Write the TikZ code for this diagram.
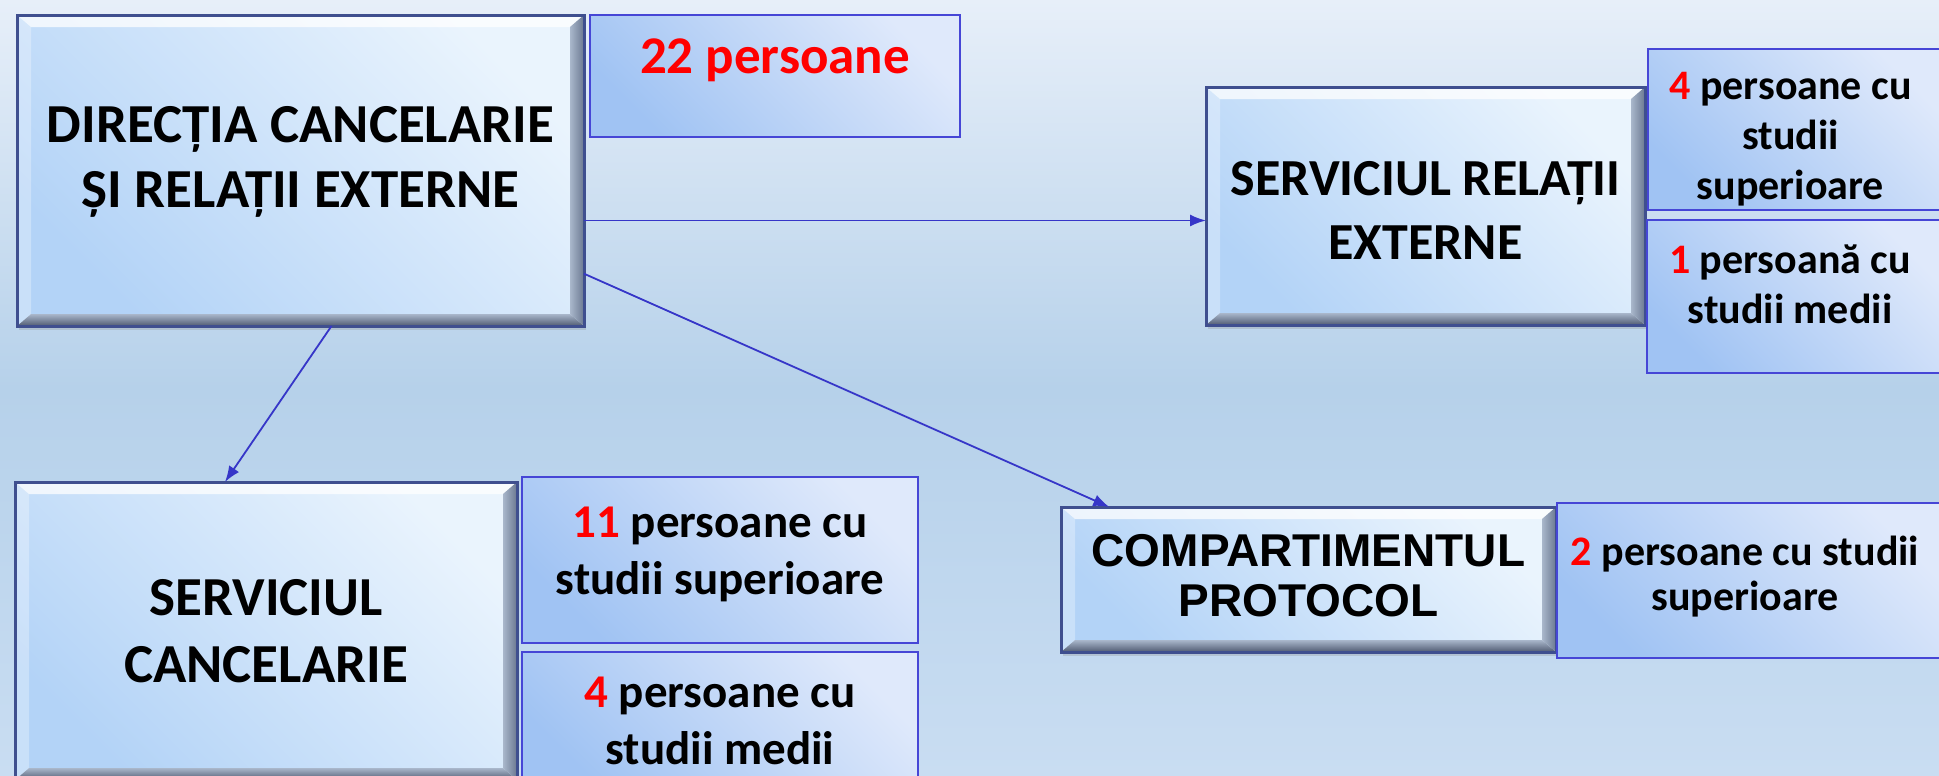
\documentclass[tikz,border=0pt]{standalone}
\usepackage{fontspec}
\setmainfont{Carlito}
\newfontfamily\arialfont{Liberation Sans}
\usetikzlibrary{arrows.meta,shadows}
\definecolor{bgtop}{HTML}{E7EFF9}
\definecolor{bgmid}{HTML}{B6D1EA}
\definecolor{bgbot}{HTML}{C9DDF2}
\definecolor{boxedge}{HTML}{3F4F8F}
\definecolor{boxlight}{HTML}{EAF4FD}
\definecolor{boxdark}{HTML}{B3D3F7}
\definecolor{bevelmid}{HTML}{A9B7CB}
\definecolor{beveldark}{HTML}{505B72}
\definecolor{bevelside}{HTML}{6B7891}
\definecolor{infoedge}{HTML}{4646D6}
\definecolor{infolight}{HTML}{DFE9FB}
\definecolor{infodark}{HTML}{A0C3F3}
\definecolor{linkblue}{HTML}{3636C8}
\definecolor{numred}{HTML}{FF0000}
\newcommand{\nr}[1]{\textcolor{numred}{#1}}
\tikzset{
  unitbox/.style={draw=boxedge, line width=1.5pt, top color=boxlight, bottom color=boxdark,
    shading angle=-45, inner sep=0pt, outer sep=0pt,
    drop shadow={opacity=.25, shadow xshift=1pt, shadow yshift=-2pt},
    path picture={
      \path (path picture bounding box.north west) coordinate (nw)
            (path picture bounding box.north east) coordinate (ne)
            (path picture bounding box.south west) coordinate (sw)
            (path picture bounding box.south east) coordinate (se);
      \fill[white,opacity=.75] (nw) -- (ne) -- ([shift={(-7pt,-6pt)}]ne) -- ([shift={(7pt,-6pt)}]nw) -- cycle;
      \shade[top color=bevelmid, bottom color=beveldark, shading angle=0] (sw) -- (se) -- ([shift={(-7pt,6pt)}]se) -- ([shift={(7pt,6pt)}]sw) -- cycle;
      \shade[left color=bevelmid, right color=bevelside] (se) -- (ne) -- ([shift={(-7pt,-6pt)}]ne) -- ([shift={(-7pt,6pt)}]se) -- cycle;
      \fill[white,opacity=.3] (sw) -- (nw) -- ([shift={(7pt,-6pt)}]nw) -- ([shift={(7pt,6pt)}]sw) -- cycle;
    }},
  infobox/.style={draw=infoedge, line width=.6pt, top color=infolight, bottom color=infodark,
    shading angle=-45, inner sep=0pt, outer sep=0pt},
  boxtext/.style={align=center, inner sep=0pt},
  link/.style={draw=linkblue, line width=.9pt, -{Latex[length=8pt,width=6pt]}},
}
\begin{document}
\begin{tikzpicture}[x=0.5pt,y=-0.5pt]
\useasboundingbox (0,0) rectangle (1939,776);
\shade[top color=bgtop, bottom color=bgbot, middle color=bgmid] (0,0) rectangle (1939,776);

\node[unitbox, minimum width=283.5pt, minimum height=155.5pt,
  label={[boxtext, yshift=4.5pt, font=\bfseries\fontsize{27.5}{32.5}\selectfont]center:DIRECȚIA CANCELARIE\\ȘI RELAȚII EXTERNE}] (dir) at (300.5,170.5) {};
\node[infobox, minimum width=185pt, minimum height=61pt,
  label={[boxtext, yshift=8pt, font=\bfseries\fontsize{26.5}{32}\selectfont]center:\nr{22 persoane}}] (total) at (775,76) {};

\node[unitbox, minimum width=219.5pt, minimum height=119pt,
  label={[boxtext, yshift=-2pt, font=\bfseries\fontsize{26}{32}\selectfont]center:SERVICIUL RELAȚII\\EXTERNE}] (srel) at (1425.5,206) {};
\node[infobox, minimum width=148.5pt, minimum height=80.5pt,
  label={[boxtext, xshift=-3pt, yshift=-5pt, font=\bfseries\fontsize{21}{25}\selectfont]center:\nr{4} persoane cu\\studii\\superioare}] (srelsup) at (1796.5,129.5) {};
\node[infobox, minimum width=149pt, minimum height=76.5pt,
  label={[boxtext, xshift=-3pt, yshift=6pt, font=\bfseries\fontsize{21}{25}\selectfont]center:\nr{1} persoană cu\\studii medii}] (srelmed) at (1796,296.5) {};

\node[unitbox, minimum width=251pt, minimum height=149pt,
  label={[boxtext, font=\bfseries\fontsize{27.5}{33.5}\selectfont]center:SERVICIUL\\CANCELARIE}] (scanc) at (266,631) {};
\node[infobox, minimum width=198pt, minimum height=83pt,
  label={[boxtext, yshift=3pt, font=\bfseries\fontsize{23.5}{28.5}\selectfont]center:\nr{11} persoane cu\\studii superioare}] (scancsup) at (720,560) {};
\node[infobox, minimum width=198pt, minimum height=69pt,
  label={[boxtext, font=\bfseries\fontsize{23.5}{28.5}\selectfont]center:\nr{4} persoane cu\\studii medii}] (scancmed) at (720,721) {};

\node[unitbox, minimum width=247.5pt, minimum height=72.5pt,
  label={[boxtext, yshift=2pt, font=\arialfont\bfseries\fontsize{23}{25}\selectfont]center:COMPARTIMENTUL\\PROTOCOL}] (comp) at (1308.5,579.5) {};
\node[infobox, minimum width=194pt, minimum height=77.5pt,
  label={[boxtext, xshift=-3pt, yshift=2pt, font=\bfseries\fontsize{21}{22.5}\selectfont]center:\nr{2} persoane cu studii\\superioare}] (compsup) at (1751,580.5) {};

\draw[link] (dir.-10) -- (dir.-10 -| srel.west);
\draw[link] (dir.-20) -- (comp.160);
\draw[link] ([xshift=15.5pt]dir.south) -- ([xshift=-20.5pt]scanc.north);
\end{tikzpicture}
\end{document}
